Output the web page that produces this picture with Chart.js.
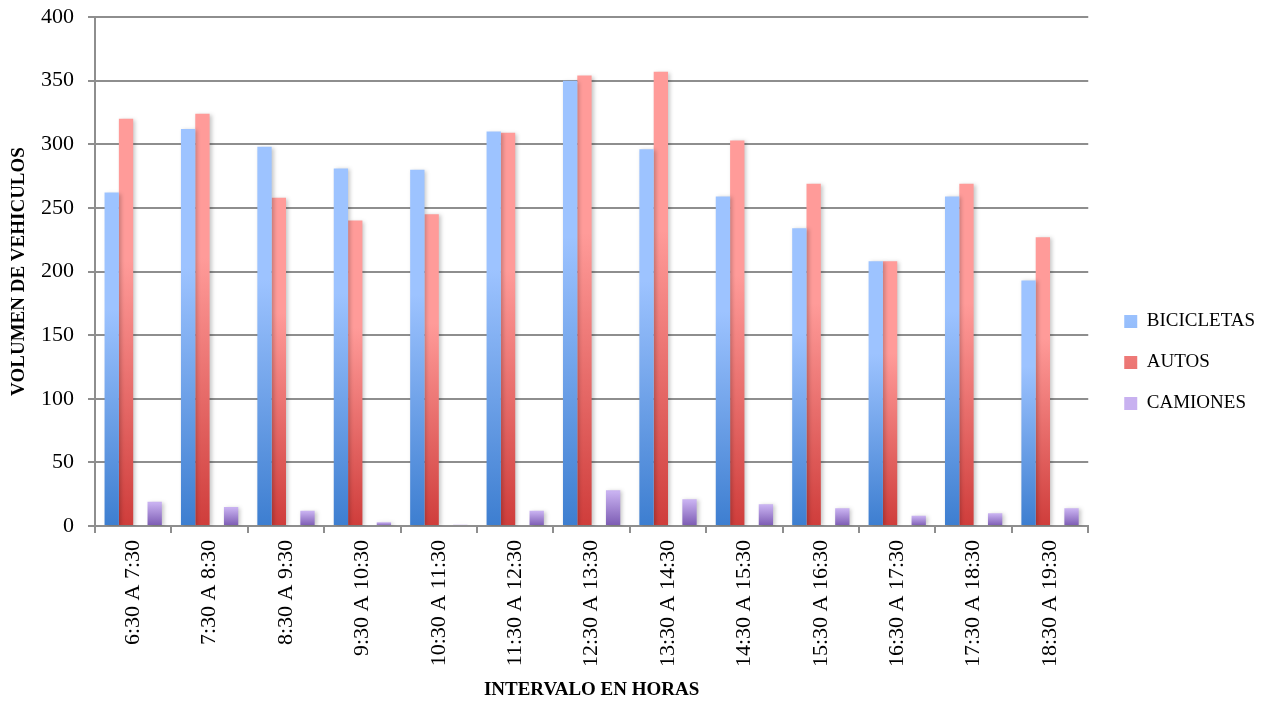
<!DOCTYPE html>
<html>
<head>
<meta charset="utf-8">
<script src="https://cdn.jsdelivr.net/npm/chart.js@4/dist/chart.umd.min.js"></script>
<style>
  html, body { margin: 0; padding: 0; background: #fff; }
  #wrap { width: 1272px; height: 702px; }
</style>
</head>
<body>
<div id="wrap"><canvas id="barChart" width="1272" height="702"></canvas></div>
<script>
// Datos
const intervalos = ['6:30 A 7:30', '7:30 A 8:30', '8:30 A 9:30', '9:30 A 10:30', '10:30 A 11:30',
    '11:30 A 12:30', '12:30 A 13:30', '13:30 A 14:30', '14:30 A 15:30', '15:30 A 16:30',
    '16:30 A 17:30', '17:30 A 18:30', '18:30 A 19:30'];
const bicicletas = [262, 312, 298, 281, 280, 310, 350, 296, 259, 234, 208, 259, 193];
const autos = [320, 324, 258, 240, 245, 309, 354, 357, 303, 269, 208, 269, 227];
const camiones = [19, 15, 12, 3, 1, 12, 28, 21, 17, 14, 8, 10, 14];
const vacio = intervalos.map(() => null);
const yTicks = [0, 50, 100, 150, 200, 250, 300, 350, 400];

const serif = "'Liberation Serif', 'Times New Roman', serif";
const gridColor = '#8e8e8e';

Chart.defaults.font.family = serif;
Chart.defaults.color = '#000';

// Degradado por barra (claro arriba, oscuro abajo)
function barGradient(top, mid, bottom, hold) {
    return (context) => {
        const chart = context.chart;
        const { ctx, chartArea, scales } = chart;
        if (!chartArea || context.type !== 'data' || context.raw == null) {
            return mid;
        }
        const y0 = scales.y.getPixelForValue(0);
        const y1 = scales.y.getPixelForValue(context.raw);
        if (Math.abs(y0 - y1) < 1) {
            return mid;
        }
        const g = ctx.createLinearGradient(0, y1, 0, y0);
        g.addColorStop(0, top);
        g.addColorStop(hold, top);
        g.addColorStop(1, bottom);
        return g;
    };
}

// Sombra suave de las barras
const barShadow = {
    id: 'barShadow',
    beforeDatasetsDraw(chart) {
        const ctx = chart.ctx;
        ctx.save();
        ctx.shadowColor = 'rgba(0,0,0,0.22)';
        ctx.shadowBlur = 4;
        ctx.shadowOffsetX = 2;
        ctx.shadowOffsetY = 1;
    },
    afterDatasetsDraw(chart) {
        chart.ctx.restore();
    }
};

const ctx = document.getElementById('barChart').getContext('2d');
const barChartInstance = new Chart(ctx, {
    type: 'bar',
    data: {
        labels: intervalos,
        datasets: [
            { label: 'BICICLETAS', data: bicicletas, backgroundColor: barGradient('#9dc3ff', '#6a9be6', '#3d7ed0', 0.35) },
            { label: 'AUTOS', data: autos, backgroundColor: barGradient('#ff9b99', '#eb6d6b', '#cf3d3b', 0.35) },
            { label: '', data: vacio, backgroundColor: 'rgba(0,0,0,0)' },
            { label: 'CAMIONES', data: camiones, backgroundColor: barGradient('#c8b1f0', '#a386d6', '#7b5ab2', 0.05) }
        ]
    },
    options: {
        responsive: false,
        animation: false,
        devicePixelRatio: 1,
        layout: { padding: { top: 7, right: 7, bottom: -16, left: 0 } },
        datasets: {
            bar: { categoryPercentage: 0.75, barPercentage: 1.0 }
        },
        plugins: {
            tooltip: { enabled: false },
            legend: {
                position: 'right',
                labels: {
                    color: '#000',
                    font: { family: serif, size: 19 },
                    boxWidth: 13,
                    boxHeight: 13,
                    padding: 22,
                    filter: (item) => item.text !== ''
                }
            }
        },
        scales: {
            x: {
                grid: {
                    display: true,
                    drawOnChartArea: false,
                    drawTicks: true,
                    tickLength: 7,
                    color: gridColor,
                    lineWidth: 2
                },
                border: { color: gridColor, width: 2 },
                ticks: {
                    color: '#000',
                    font: { family: serif, size: 22 },
                    autoSkip: false,
                    minRotation: 90,
                    maxRotation: 90,
                    padding: 7
                },
                title: {
                    display: true,
                    text: 'INTERVALO EN HORAS',
                    color: '#000',
                    font: { family: serif, size: 19, weight: 'bold' },
                    padding: { top: 4, bottom: 17 }
                },
                afterFit(scale) { scale.height = 192; }
            },
            y: {
                min: 0,
                max: 400,
                afterBuildTicks(scale) { scale.ticks = yTicks.map(v => ({ value: v })); },
                grid: { color: gridColor, lineWidth: 2, tickLength: 7 },
                border: { color: gridColor, width: 2 },
                ticks: {
                    color: '#000',
                    font: { family: serif, size: 22 },
                    padding: 14
                },
                title: {
                    display: true,
                    text: 'VOLUMEN DE VEHICULOS',
                    color: '#000',
                    font: { family: serif, size: 19, weight: 'bold' },
                    padding: { top: 8, bottom: 4 }
                },
                afterFit(scale) {
                    scale.width = 95;
                    scale.paddingTop = 17;
                    scale.paddingBottom = 14;
                }
            },
            // eje vacio: separa el area del grafico de la leyenda
            yGap: {
                position: 'right',
                display: true,
                grid: { display: false },
                border: { display: false },
                ticks: { display: false },
                afterFit(scale) { scale.width = 14; }
            }
        }
    },
    plugins: [barShadow]
});
</script>
</body>
</html>
